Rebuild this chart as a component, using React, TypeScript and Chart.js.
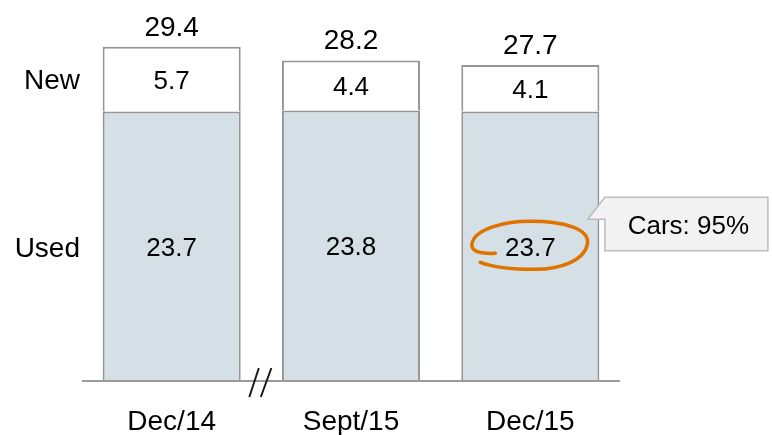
import React, { useEffect, useRef } from "react";
import { Chart, registerables } from "chart.js";

Chart.register(...registerables);

const categories = ["Dec/14", "Sept/15", "Dec/15"];
const usedValues = [23.7, 23.8, 23.7];
const newValues = [5.7, 4.4, 4.1];
const totalValues = [29.4, 28.2, 27.7];
const seriesNames = ["Used", "New"];
const calloutText = "Cars: 95%";
const highlightIndex = 2;

const FONT = "'Liberation Sans', Arial, sans-serif";

const annotationPlugin = {
  id: "annotations",
  afterDatasetsDraw(chart: any) {
    const ctx = chart.ctx as CanvasRenderingContext2D;
    const area = chart.chartArea;
    const xs = chart.scales.x;
    const usedMeta = chart.getDatasetMeta(0);
    const newMeta = chart.getDatasetMeta(1);
    ctx.save();

    // axis line
    ctx.strokeStyle = "#9a9a9a";
    ctx.lineWidth = 2;
    ctx.beginPath();
    ctx.moveTo(area.left, area.bottom);
    ctx.lineTo(area.right, area.bottom);
    ctx.stroke();

    // break marks between first and second category
    const bx = (xs.getPixelForValue(0) + xs.getPixelForValue(1)) / 2;
    const by = area.bottom;
    ctx.strokeStyle = "#1a1a1a";
    ctx.lineWidth = 2;
    ctx.beginPath();
    ctx.moveTo(bx - 12, by + 16);
    ctx.lineTo(bx - 2.5, by - 13);
    ctx.moveTo(bx - 0.5, by + 16);
    ctx.lineTo(bx + 10, by - 13);
    ctx.stroke();

    ctx.fillStyle = "#000";
    // inner values
    ctx.textAlign = "center";
    ctx.textBaseline = "alphabetic";
    ctx.font = `26px ${FONT}`;
    [usedMeta, newMeta].forEach((meta: any, di: number) => {
      const vals = di === 0 ? usedValues : newValues;
      meta.data.forEach((el: any, i: number) => {
        const cy = (el.y + el.base) / 2;
        ctx.fillText(vals[i].toFixed(1), el.x, cy + 9.5);
      });
    });

    // totals
    ctx.font = `28px ${FONT}`;
    newMeta.data.forEach((el: any, i: number) => {
      ctx.fillText(totalValues[i].toFixed(1), el.x, el.y - 11);
    });

    // category labels
    categories.forEach((c, i) => {
      ctx.fillText(c, xs.getPixelForValue(i), area.bottom + 49);
    });

    // series labels on the left
    ctx.textAlign = "right";
    const u0 = usedMeta.data[0];
    const n0 = newMeta.data[0];
    ctx.fillText(seriesNames[1], area.left - 2, (n0.y + n0.base) / 2 + 10);
    ctx.fillText(seriesNames[0], area.left - 2, (u0.y + u0.base) / 2 + 11);

    // highlight ellipse
    const hEl = usedMeta.data[highlightIndex];
    const hx = hEl.x;
    const hy = (hEl.y + hEl.base) / 2;
    ctx.strokeStyle = "#e07300";
    ctx.lineWidth = 3.5;
    ctx.lineCap = "round";
    ctx.beginPath();
    ctx.moveTo(hx - 35, hy + 7);
    ctx.quadraticCurveTo(hx - 62, hy + 8, hx - 58, hy - 4);
    ctx.bezierCurveTo(hx - 54, hy - 18, hx - 25, hy - 25, hx, hy - 25);
    ctx.bezierCurveTo(hx + 35, hy - 25, hx + 60, hy - 17, hx + 57, hy - 2);
    ctx.bezierCurveTo(hx + 54, hy + 14, hx + 30, hy + 23, hx + 5, hy + 23);
    ctx.bezierCurveTo(hx - 20, hy + 23, hx - 40, hy + 20, hx - 50, hy + 16);
    ctx.stroke();

    // callout
    const props = hEl.getProps(["x", "width"], true);
    const left = props.x + props.width / 2 + 5.5;
    const top = hy - 49;
    const right = left + 163;
    const bottom = top + 53.5;
    ctx.fillStyle = "#f2f2f2";
    ctx.strokeStyle = "#bdbdbd";
    ctx.lineWidth = 1.5;
    ctx.lineCap = "butt";
    ctx.beginPath();
    ctx.moveTo(left, top);
    ctx.lineTo(right, top);
    ctx.lineTo(right, bottom);
    ctx.lineTo(left, bottom);
    ctx.lineTo(left, top + 22);
    ctx.lineTo(left - 17, top + 22);
    ctx.closePath();
    ctx.fill();
    ctx.stroke();
    ctx.fillStyle = "#000";
    ctx.textAlign = "center";
    ctx.font = `26px ${FONT}`;
    ctx.fillText(calloutText, (left + right) / 2 + 2, top + 37);

    ctx.restore();
  },
};

export default function App() {
  const canvasRef = useRef<HTMLCanvasElement | null>(null);

  useEffect(() => {
    if (!canvasRef.current) return;
    const chart = new Chart(canvasRef.current, {
      type: "bar",
      data: {
        labels: categories,
        datasets: [
          {
            label: seriesNames[0],
            data: usedValues,
            backgroundColor: "#d4e0e6",
            borderColor: "#959595",
            borderWidth: 2,
            barPercentage: 0.77,
            categoryPercentage: 1,
          },
          {
            label: seriesNames[1],
            data: newValues,
            backgroundColor: "#ffffff",
            borderColor: "#959595",
            borderWidth: 2,
            barPercentage: 0.77,
            categoryPercentage: 1,
          },
        ],
      },
      options: {
        animation: false,
        responsive: false,
        maintainAspectRatio: false,
        layout: { padding: { left: 82, right: 152, top: 40, bottom: 54 } },
        plugins: {
          legend: { display: false },
          tooltip: { enabled: false },
        },
        scales: {
          x: { display: false, stacked: true, offset: true },
          y: { display: false, stacked: true, min: 0, max: 30 },
        },
      },
      plugins: [annotationPlugin],
    });
    return () => chart.destroy();
  }, []);

  return (
    <div style={{ position: "fixed", left: 0, top: 0, width: 772, height: 435, background: "#fff" }}>
      <canvas ref={canvasRef} width={772} height={435} style={{ width: 772, height: 435 }} />
    </div>
  );
}
